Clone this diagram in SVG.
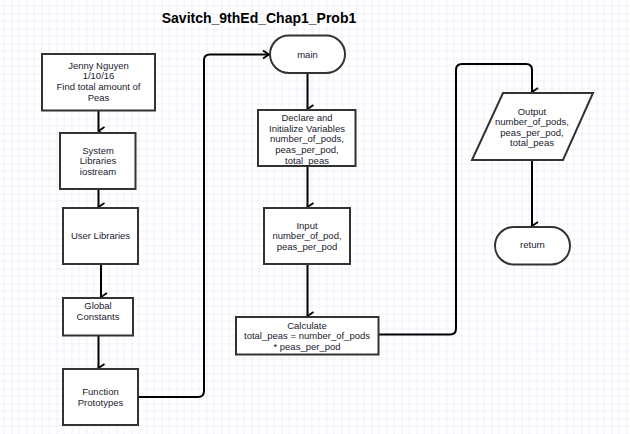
<svg xmlns="http://www.w3.org/2000/svg" width="630" height="434" viewBox="0 0 630 434">
<defs>
<pattern id="grid" x="11.5" y="13.5" width="15" height="15" patternUnits="userSpaceOnUse">
<path d="M7.5,0 V15 M0,7.5 H15" stroke="#f1f1fb" stroke-width="1" fill="none"/>
<path d="M0,0 V15 M0,0 H15" stroke="#e2e2f6" stroke-width="1.2" fill="none"/>
</pattern>
<marker id="arr" markerUnits="userSpaceOnUse" markerWidth="12" markerHeight="12" viewBox="0 0 12 12" refX="6" refY="10" orient="auto-start-reverse">
<path d="M2,4 L6,10 L10,4" fill="none" stroke="#000" stroke-width="1.8"/>
</marker>
<marker id="arrR" markerUnits="userSpaceOnUse" markerWidth="12" markerHeight="12" viewBox="0 0 12 12" refX="10" refY="6" orient="0">
<path d="M4,2 L10,6 L4,10" fill="none" stroke="#000" stroke-width="1.8"/>
</marker>
</defs>
<style>
.box{fill:#fff;stroke:#333;stroke-width:2}
.t{font-family:"Liberation Sans",Arial,sans-serif;font-size:9.5px;fill:#1a1a2e;text-anchor:middle}
.title{font-family:"Liberation Sans",Arial,sans-serif;font-size:14px;font-weight:bold;fill:#000;text-anchor:middle}
.c{fill:none;stroke:#000;stroke-width:2}
</style>
<rect width="630" height="434" fill="#fff"/>
<rect width="630" height="434" fill="url(#grid)"/>
<text class="title" x="259" y="23">Savitch_9thEd_Chap1_Prob1</text>

<g id="connectors">
<path class="c" d="M98.5,110 V131" marker-end="url(#arr)"/>
<path class="c" d="M98.5,189 V207" marker-end="url(#arr)"/>
<path class="c" d="M101,264 V297" marker-end="url(#arr)"/>
<path class="c" d="M98.5,336 V368" marker-end="url(#arr)"/>
<path class="c" d="M138,397 H198 Q204,397 204,391 V60 Q204,54.5 210,54.5 H269" marker-end="url(#arrR)"/>
<path class="c" d="M307.5,73 V109" marker-end="url(#arr)"/>
<path class="c" d="M307.5,166 V207" marker-end="url(#arr)"/>
<path class="c" d="M307.5,264 V316" marker-end="url(#arr)"/>
<path class="c" d="M378.5,334.5 H450 Q456,334.5 456,328.5 V70 Q456,64 462,64 H526 Q532,64 532,70 V92" marker-end="url(#arr)"/>
<path class="c" d="M532,160 V226" marker-end="url(#arr)"/>
</g>

<g id="header">
<rect class="box" x="42" y="54" width="113" height="56.5"/>
<text class="t" x="98.5" y="68.5">Jenny Nguyen</text>
<text class="t" x="98.5" y="79.2">1/10/16</text>
<text class="t" x="98.5" y="90">Find total amount of</text>
<text class="t" x="98.5" y="101">Peas</text>
</g>
<g id="system-libraries">
<rect class="box" x="60" y="133" width="75.5" height="56"/>
<text class="t" x="98" y="153.5">System</text>
<text class="t" x="98" y="164">Libraries</text>
<text class="t" x="98" y="174.5">iostream</text>
</g>
<g id="user-libraries">
<rect class="box" x="63" y="208" width="75" height="56"/>
<text class="t" x="100.5" y="239">User Libraries</text>
</g>
<g id="global-constants">
<rect class="box" x="63" y="298" width="70" height="37.5"/>
<text class="t" x="98" y="309">Global</text>
<text class="t" x="98" y="320">Constants</text>
</g>
<g id="function-prototypes">
<rect class="box" x="63" y="369" width="75" height="56"/>
<text class="t" x="100.5" y="395">Function</text>
<text class="t" x="100.5" y="405.5">Prototypes</text>
</g>
<g id="main">
<rect class="box" x="270" y="35.5" width="75" height="37.5" rx="18.75"/>
<text class="t" x="307.5" y="57.5">main</text>
</g>
<g id="declare">
<rect class="box" x="258" y="110" width="97.5" height="56"/>
<text class="t" x="307" y="120.5">Declare and</text>
<text class="t" x="307" y="131.5">Initialize Variables</text>
<text class="t" x="307" y="142.3">number_of_pods,</text>
<text class="t" x="307" y="153">peas_per_pod,</text>
<text class="t" x="307" y="163.8">total_peas</text>
</g>
<g id="input">
<rect class="box" x="264" y="208" width="86" height="56"/>
<text class="t" x="307" y="228.5">Input</text>
<text class="t" x="307" y="239">number_of_pod,</text>
<text class="t" x="307" y="250">peas_per_pod</text>
</g>
<g id="calculate">
<rect class="box" x="236" y="317" width="142.5" height="37.5"/>
<text class="t" x="307" y="328.5">Calculate</text>
<text class="t" x="307" y="339">total_peas = number_of_pods</text>
<text class="t" x="307" y="349.5">* peas_per_pod</text>
</g>
<g id="output">
<polygon class="box" points="503,93 593,93 563,160 472,160"/>
<text class="t" x="532" y="114.5">Output</text>
<text class="t" x="532" y="125">number_of_pods,</text>
<text class="t" x="532" y="135.7">peas_per_pod,</text>
<text class="t" x="532" y="146.3">total_peas</text>
</g>
<g id="return">
<rect class="box" x="495" y="227" width="75" height="37.5" rx="18.75"/>
<text class="t" x="532.5" y="247.5">return</text>
</g>
</svg>
